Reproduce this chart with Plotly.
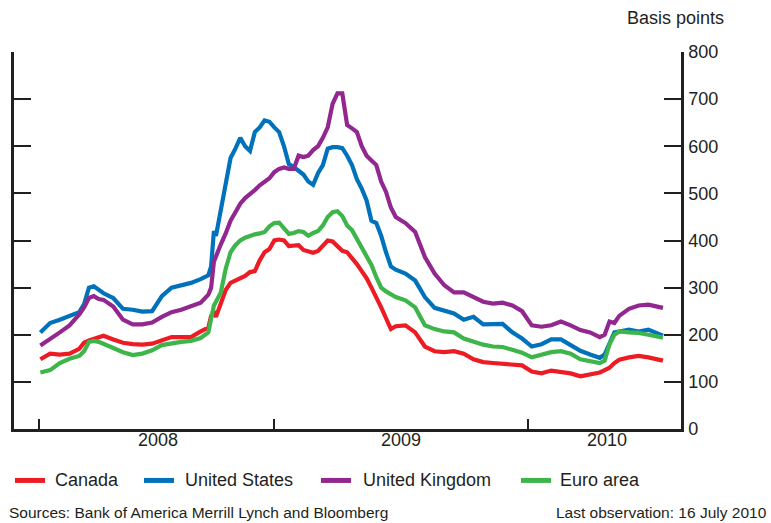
import plotly.graph_objects as go

dates = [
    "2008-01-31", "2008-02-14", "2008-02-28", "2008-03-13", "2008-03-27", "2008-04-03",
    "2008-04-10", "2008-04-17", "2008-04-24", "2008-05-01", "2008-05-15", "2008-05-29",
    "2008-06-12", "2008-06-26", "2008-07-10", "2008-07-24", "2008-08-07", "2008-08-21",
    "2008-09-04", "2008-09-18", "2008-09-29", "2008-10-03", "2008-10-07", "2008-10-10",
    "2008-10-17", "2008-10-24", "2008-10-31", "2008-11-07", "2008-11-14", "2008-11-21",
    "2008-11-28", "2008-12-05", "2008-12-12", "2008-12-19", "2008-12-26", "2009-01-02",
    "2009-01-09", "2009-01-16", "2009-01-23", "2009-01-30", "2009-02-06", "2009-02-13",
    "2009-02-20", "2009-02-27", "2009-03-06", "2009-03-13", "2009-03-20", "2009-03-27",
    "2009-04-03", "2009-04-10", "2009-04-17", "2009-04-24", "2009-05-01", "2009-05-08",
    "2009-05-15", "2009-05-22", "2009-05-29", "2009-06-05", "2009-06-12", "2009-06-19",
    "2009-06-26", "2009-07-10", "2009-07-24", "2009-08-07", "2009-08-21", "2009-09-04",
    "2009-09-18", "2009-10-02", "2009-10-16", "2009-10-30", "2009-11-13", "2009-11-27",
    "2009-12-11", "2009-12-25", "2010-01-08", "2010-01-22", "2010-02-05", "2010-02-19",
    "2010-03-05", "2010-03-19", "2010-04-02", "2010-04-16", "2010-04-23", "2010-04-30",
    "2010-05-07", "2010-05-14", "2010-05-28", "2010-06-11", "2010-06-25", "2010-07-16",
]

canada = [
    148, 160, 158, 160, 170, 183, 188, 192, 194, 198, 190, 183,
    180, 179, 181, 187, 195, 195, 195, 207, 215, 240, 248, 238,
    268, 295, 310, 315, 318, 325, 333, 335, 358, 375, 382, 400,
    402, 400, 388, 390, 390, 380, 378, 374, 378, 388, 400, 398,
    388, 378, 375, 363, 350, 335, 320, 300, 280, 258, 235, 212,
    218, 220, 205, 175, 165, 163, 165, 160, 148, 142, 140, 138,
    137, 135, 122, 118, 124, 122, 118, 112, 115, 120, 125, 130,
    140, 147, 152, 155, 152, 145,
]

united_states = [
    205, 225, 232, 240, 248, 265, 300, 303, 295, 288, 278, 255,
    253, 249, 250, 282, 300, 304, 310, 318, 326, 345, 420, 410,
    462, 520, 575, 595, 618, 600, 590, 630, 640, 655, 652, 640,
    630, 600, 562, 556, 548, 540, 525, 518, 543, 560, 595, 598,
    598, 596, 580, 560, 530, 510, 485, 442, 437, 410, 375, 345,
    338, 330, 315, 280, 257, 252, 245, 232, 238, 222, 222, 223,
    205, 192, 175, 180, 190, 190, 178, 166, 158, 151, 158, 182,
    205, 207, 211, 207, 211, 198,
]

united_kingdom = [
    177, 190, 205, 220, 243, 258, 278, 282, 276, 274, 260, 232,
    222, 222, 226, 238, 248, 253, 260, 268, 285, 300, 355, 368,
    392, 415, 442, 460, 478, 490, 498, 507, 517, 525, 532, 545,
    552, 555, 552, 552, 580, 577, 580, 592, 600, 618, 640, 690,
    712, 712, 645, 638, 630, 600, 580, 570, 560, 525, 503, 470,
    450, 437, 418, 365, 330, 305, 290, 290, 280, 270, 266, 268,
    262, 250, 220, 217, 220, 228, 220, 210, 205, 195, 200, 228,
    225, 240, 255, 262, 264, 257,
]

euro_area = [
    120, 125, 140, 149, 155, 165, 185, 187, 185, 180, 172, 163,
    157, 160, 167, 178, 182, 185, 187, 193, 205, 240, 262, 270,
    290, 340, 375, 390, 400, 406, 410, 413, 415, 418, 430, 437,
    438, 427, 414, 416, 420, 418, 410, 416, 420, 432, 450, 460,
    462, 452, 432, 422, 403, 385, 365, 348, 322, 300, 292, 285,
    280, 273, 258, 220, 212, 207, 205, 192, 185, 179, 175, 174,
    168, 162, 152, 158, 163, 165, 160, 148, 143, 140, 145, 180,
    200, 207, 205, 204, 200, 194,
]

series_names = ["Canada", "United States", "United Kingdom", "Euro area"]
series_values = [canada, united_states, united_kingdom, euro_area]
series_colors = ["#ED1C24", "#0072BC", "#92278F", "#3DB54A"]

year_ticks = ["2008-01-29", "2009-01-01", "2010-01-03"]
year_labels = ["2008", "2009", "2010"]
year_label_pos = ["2008-07-19", "2009-07-03", "2010-04-27"]

y_ticks = [0, 100, 200, 300, 400, 500, 600, 700, 800]

FONT = "Arial, Liberation Sans, sans-serif"
AX = "#231F20"

L, R, T, B = 14, 90, 52, 93.5
W, H = 771, 523
PW, PH = W - L - R, H - T - B


def px_x(p):
    return (p - L) / PW


def px_y(p):
    return (H - B - p) / PH


fig = go.Figure()
for name, vals, col in zip(series_names, series_values, series_colors):
    fig.add_trace(go.Scatter(x=dates, y=vals, name=name, mode="lines",
                             line=dict(color=col, width=4.2), showlegend=False))

fig.update_layout(
    width=W, height=H,
    margin=dict(l=L, r=R, t=T, b=B, autoexpand=False),
    plot_bgcolor="white", paper_bgcolor="white",
    font=dict(family=FONT, size=17, color=AX),
    showlegend=False,
    xaxis=dict(type="date", range=["2007-12-24", "2010-08-11"],
               tickvals=year_ticks, showticklabels=False,
               ticks="inside", ticklen=10, tickwidth=2, tickcolor=AX,
               showline=True, linewidth=2.5, linecolor=AX, showgrid=False,
               zeroline=False),
    yaxis=dict(side="right", range=[0, 800], tickvals=y_ticks,
               ticks="inside", ticklen=17, tickwidth=2, tickcolor=AX,
               showline=True, linewidth=2.5, linecolor=AX, mirror="ticks",
               showgrid=False, zeroline=False,
               tickfont=dict(size=18, color=AX), ticklabelstandoff=1),
)

# Legend drawn as line samples + labels
legend_line_x = [15, 144, 321, 521]
legend_text_x = [53, 183, 361, 558]
legend_y = 481
for name, col, lx, tx in zip(series_names, series_colors, legend_line_x, legend_text_x):
    fig.add_shape(type="line", xref="paper", yref="paper",
                  x0=px_x(lx), x1=px_x(lx + 30), y0=px_y(legend_y), y1=px_y(legend_y),
                  line=dict(color=col, width=5))
    fig.add_annotation(x=px_x(tx), y=px_y(legend_y), xref="paper", yref="paper",
                       text=name, showarrow=False, xanchor="left", yanchor="middle",
                       font=dict(size=18, color=AX))

for lab, pos in zip(year_labels, year_label_pos):
    fig.add_annotation(x=pos, y=px_y(441), xref="x", yref="paper", text=lab,
                       showarrow=False, yanchor="middle", font=dict(size=18, color=AX))

fig.add_annotation(x=px_x(726), y=px_y(18), xref="paper", yref="paper",
                   text="Basis points", showarrow=False, xanchor="right", yanchor="middle",
                   font=dict(size=18, color=AX))

fig.add_annotation(x=px_x(7), y=px_y(513), xref="paper", yref="paper",
                   text="Sources: Bank of America Merrill Lynch and Bloomberg",
                   showarrow=False, xanchor="left", yanchor="middle",
                   font=dict(size=15.5, color=AX))
fig.add_annotation(x=px_x(769), y=px_y(513), xref="paper", yref="paper",
                   text="Last observation: 16 July 2010",
                   showarrow=False, xanchor="right", yanchor="middle",
                   font=dict(size=15.5, color=AX))

fig.write_html("out.html", config={"displayModeBar": False},
               post_script="document.body.style.margin='0';")
